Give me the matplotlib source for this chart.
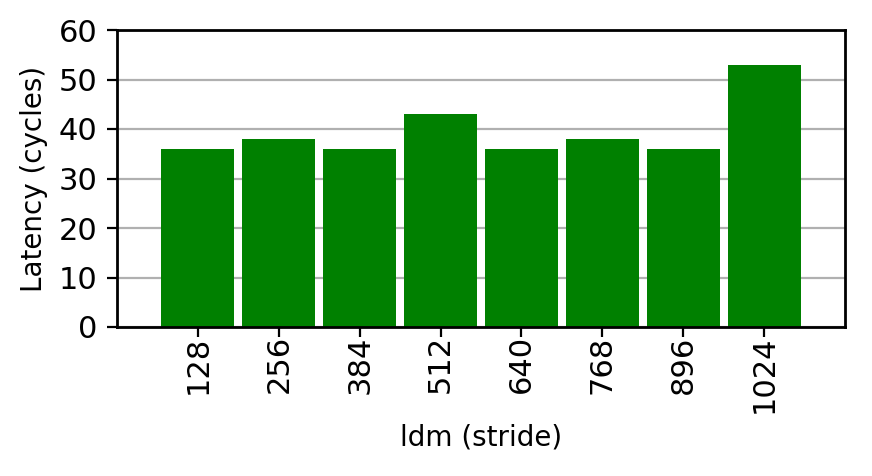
import matplotlib
matplotlib.use('Agg')
import matplotlib.pyplot as plt

# Data
strides = ['128', '256', '384', '512', '640', '768', '896', '1024']
latency = [36, 38, 36, 43, 36, 38, 36, 53]
yticks = [0, 10, 20, 30, 40, 50, 60]

plt.rcParams['font.size'] = 10
plt.rcParams['axes.linewidth'] = 1.0

fig = plt.figure(figsize=(4.36, 2.38), dpi=200)
ax = fig.add_axes([117 / 872, 1 - 327 / 476, 728 / 872, 297 / 476])

pos = list(range(len(strides)))
ax.bar(pos, latency, width=0.9, color='green')
ax.set_axisbelow(True)
ax.yaxis.grid(True)

ax.set_xlim(-1, len(strides))
ax.set_ylim(0, 60)
ax.set_yticks(yticks)
ax.set_xticks(pos)
ax.set_xticklabels(strides, rotation=90)
ax.tick_params(labelsize=11)
ax.tick_params(axis='x', pad=-0.5)
ax.set_xlabel('ldm (stride)')
ax.set_ylabel('Latency (cycles)')

fig.savefig('out.png', dpi=200)
